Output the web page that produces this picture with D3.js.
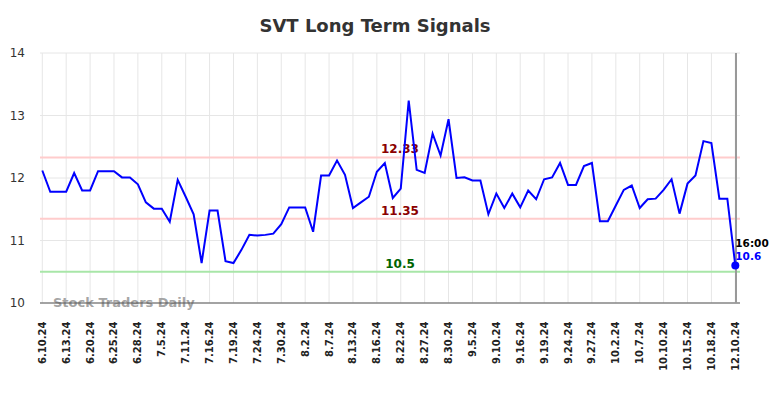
<!DOCTYPE html>
<html>
<head>
<meta charset="utf-8">
<script src="https://cdn.jsdelivr.net/npm/d3@7/dist/d3.min.js"></script>
<style>
  html, body { margin: 0; padding: 0; background: #fff; }
  svg { display: block; font-family: "DejaVu Sans", sans-serif; }
</style>
</head>
<body>
<svg id="chart" width="784" height="398"></svg>
<script>
const title = "SVT Long Term Signals";
const tickLabels = ["6.10.24","6.13.24","6.20.24","6.25.24","6.28.24","7.5.24","7.11.24","7.16.24","7.19.24","7.24.24","7.30.24","8.2.24","8.7.24","8.13.24","8.16.24","8.22.24","8.27.24","8.30.24","9.5.24","9.10.24","9.16.24","9.19.24","9.24.24","9.27.24","10.2.24","10.7.24","10.10.24","10.15.24","10.18.24","12.10.24"];
const tickStep = 3;
const prices = [
  12.12, 11.78, 11.78, 11.78, 12.08, 11.80, 11.80, 12.11, 12.11, 12.11,
  12.01, 12.01, 11.90, 11.61, 11.51, 11.51, 11.30, 11.97, 11.70, 11.42,
  10.64, 11.48, 11.48, 10.67, 10.64, 10.85, 11.09, 11.08, 11.09, 11.11,
  11.26, 11.53, 11.53, 11.53, 11.14, 12.04, 12.04, 12.28, 12.05, 11.52,
  11.61, 11.70, 12.10, 12.24, 11.68, 11.83, 13.24, 12.13, 12.08, 12.71,
  12.36, 12.94, 12.00, 12.01, 11.96, 11.96, 11.42, 11.75, 11.52, 11.75,
  11.53, 11.80, 11.66, 11.98, 12.01, 12.24, 11.89, 11.89, 12.19, 12.24,
  11.31, 11.31, 11.56, 11.81, 11.88, 11.52, 11.66, 11.67, 11.81, 11.98,
  11.43, 11.91, 12.04, 12.59, 12.56, 11.67, 11.67, 10.60
];
const yTicks = [10, 11, 12, 13, 14];
const resistanceLevels = [12.33, 11.35];
const supportLevels = [10.5];
const lastTime = "16:00";
const lastLabel = "10.6";
const watermark = "Stock Traders Daily";

const svg = d3.select("#chart");
const plotLeft = 40, plotRight = 740, plotTop = 53, plotBottom = 303;

const x = d3.scaleLinear().domain([0, prices.length - 1]).range([42.3, 735.3]);
const y = d3.scaleLinear().domain([10, 14]).range([plotBottom, plotTop]);

// title
svg.append("text")
  .attr("x", 375).attr("y", 32)
  .attr("text-anchor", "middle")
  .attr("font-size", 18).attr("font-weight", "bold")
  .attr("fill", "#333")
  .text(title);

// horizontal gridlines
svg.append("g").selectAll("line").data(yTicks).join("line")
  .attr("x1", plotLeft).attr("x2", plotRight)
  .attr("y1", d => y(d)).attr("y2", d => y(d))
  .attr("stroke", "#e6e6e6").attr("stroke-width", 1);

// vertical gridlines
const tickIdx = tickLabels.map((d, i) => i * tickStep);
svg.append("g").selectAll("line").data(tickIdx).join("line")
  .attr("x1", d => x(d)).attr("x2", d => x(d))
  .attr("y1", plotTop).attr("y2", plotBottom)
  .attr("stroke", "#e6e6e6").attr("stroke-width", 1);

// y axis labels
svg.append("g").selectAll("text").data(yTicks).join("text")
  .attr("x", 25).attr("y", d => y(d))
  .attr("dy", "0.35em")
  .attr("text-anchor", "end")
  .attr("font-size", 12).attr("fill", "#333")
  .text(d => d);

// level lines
svg.append("g").selectAll("line").data(resistanceLevels).join("line")
  .attr("x1", plotLeft).attr("x2", plotRight)
  .attr("y1", d => y(d)).attr("y2", d => y(d))
  .attr("stroke", "#ffcccc").attr("stroke-width", 2);
svg.append("g").selectAll("line").data(supportLevels).join("line")
  .attr("x1", plotLeft).attr("x2", plotRight)
  .attr("y1", d => y(d)).attr("y2", d => y(d))
  .attr("stroke", "#a8e6a8").attr("stroke-width", 2);

// watermark
svg.append("text")
  .attr("x", 53).attr("y", 307)
  .attr("font-size", 13).attr("font-weight", "bold")
  .attr("fill", "#999").attr("fill-opacity", 0.9)
  .text(watermark);

// bottom axis line
svg.append("line")
  .attr("x1", plotLeft).attr("x2", plotRight)
  .attr("y1", plotBottom).attr("y2", plotBottom)
  .attr("stroke", "#555").attr("stroke-width", 1.2);

// right vertical line
svg.append("line")
  .attr("x1", 736).attr("x2", 736)
  .attr("y1", plotTop).attr("y2", plotBottom)
  .attr("stroke", "#999").attr("stroke-width", 2);

// level labels
svg.append("g").selectAll("text").data(resistanceLevels).join("text")
  .attr("x", 400).attr("y", d => y(d) - 4)
  .attr("text-anchor", "middle")
  .attr("font-size", 12).attr("font-weight", "bold")
  .attr("fill", "#8b0000")
  .text(d => d.toFixed(2));
svg.append("g").selectAll("text").data(supportLevels).join("text")
  .attr("x", 400).attr("y", d => y(d) - 4)
  .attr("text-anchor", "middle")
  .attr("font-size", 12).attr("font-weight", "bold")
  .attr("fill", "#006400")
  .text(d => d);

// price line
const line = d3.line().x((d, i) => x(i)).y(d => y(d));
svg.append("path")
  .datum(prices)
  .attr("d", line)
  .attr("fill", "none")
  .attr("stroke", "#0000ff")
  .attr("stroke-width", 2)
  .attr("stroke-linejoin", "miter");

// last dot
const li = prices.length - 1;
svg.append("circle")
  .attr("cx", x(li)).attr("cy", y(prices[li]))
  .attr("r", 4).attr("fill", "#0000ff");

svg.append("text")
  .attr("x", x(li)).attr("y", y(prices[li]) - 19)
  .attr("font-size", 10.5).attr("font-weight", "bold")
  .attr("fill", "#000")
  .text(lastTime);
svg.append("text")
  .attr("x", x(li)).attr("y", y(prices[li]) - 6)
  .attr("font-size", 10.5).attr("font-weight", "bold")
  .attr("fill", "#0000ff")
  .text(lastLabel);

// x tick labels
svg.append("g").selectAll("text").data(tickLabels).join("text")
  .attr("transform", (d, i) => `translate(${x(i * tickStep)},${321.5}) rotate(-90)`)
  .attr("dy", "0.35em")
  .attr("text-anchor", "end")
  .attr("font-size", 10).attr("font-weight", "bold")
  .attr("fill", "#222")
  .text(d => d);
</script>
</body>
</html>
